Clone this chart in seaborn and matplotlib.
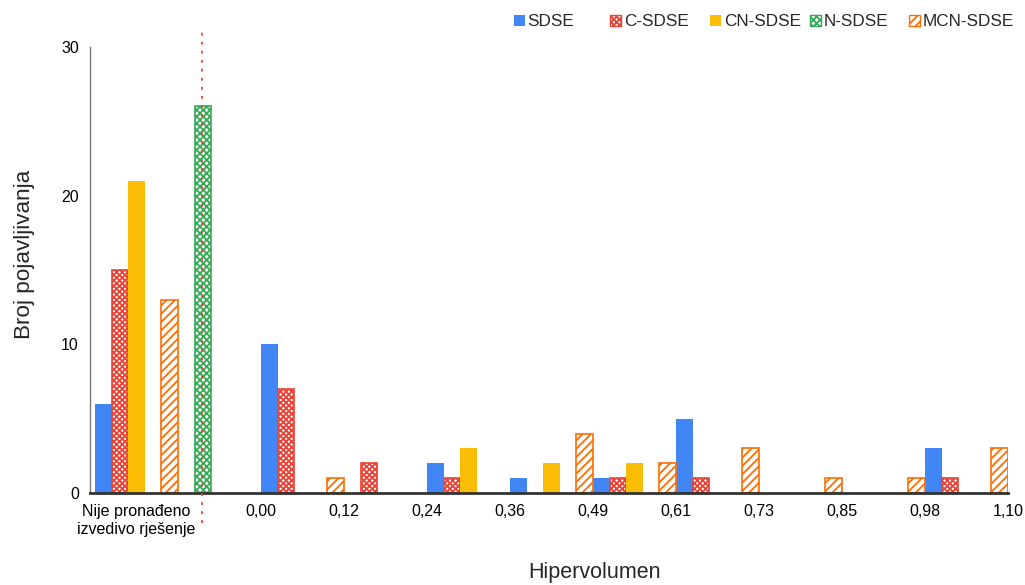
import matplotlib
matplotlib.use("Agg")
import matplotlib.pyplot as plt
import seaborn as sns
import pandas as pd
from matplotlib.patches import Patch
from matplotlib.colors import to_hex

# ---------------- data ----------------
series = ["SDSE", "C-SDSE", "CN-SDSE", "N-SDSE", "MCN-SDSE"]
colors = ["#4285F4", "#EA4335", "#FBBC04", "#34A853", "#FF6D01"]
hatches = [None, "xxxxxx", None, "xxxxx", "////"]

not_found_label = "Nije pronađeno\nizvedivo rješenje"
edge_labels = ["0,00", "0,12", "0,24", "0,36", "0,49", "0,61", "0,73", "0,85", "0,98", "1,10"]

# counts where no feasible solution was found (N-SDSE drawn separately after the separator)
not_found = [6, 15, 21, 0, 13]
not_found_nsdse = 26

# histogram counts per bin (9 bins between the edge labels)
sdse_bins = [10, 0, 2, 1, 1, 5, 0, 0, 3]
csdse_bins = [7, 2, 1, 0, 1, 1, 0, 0, 1]
cnsdse_bins = [0, 0, 3, 2, 2, 0, 0, 0, 0]
nsdse_bins = [0, 0, 0, 0, 0, 0, 0, 0, 0]
mcnsdse_bins = [1, 0, 0, 4, 2, 3, 1, 1, 3]

# ---------------- build table ----------------
groups = ["nf", "nf_N"] + [f"bin{i}" for i in range(1, 10)]
bins_all = [sdse_bins, csdse_bins, cnsdse_bins, nsdse_bins, mcnsdse_bins]
rows = []
for s, nf, b in zip(series, not_found, bins_all):
    if nf > 0:
        rows.append({"group": "nf", "series": s, "count": nf})
    for g, v in zip(groups[2:], b):
        if v > 0:
            rows.append({"group": g, "series": s, "count": v})
df = pd.DataFrame(rows)

sep_order = ["_p0", "N-SDSE", "_p2", "_p3", "_p4"]
df_n = pd.DataFrame([{"group": "nf_N", "series": k,
                      "count": not_found_nsdse if k == "N-SDSE" else 0} for k in sep_order])

# ---------------- plot ----------------
sns.set_style("white")
plt.rcParams["font.family"] = ["Liberation Sans", "DejaVu Sans"]
plt.rcParams["hatch.linewidth"] = 1.3

fig = plt.figure(figsize=(10.25, 5.85), dpi=100)
ax = fig.add_axes([90 / 1025, 92 / 585, 918 / 1025, 446 / 585])

pal = dict(zip(series, colors))
sns.barplot(data=df, x="group", y="count", hue="series", hue_order=series,
            order=groups, palette=pal, width=1.0, gap=0.0, legend=False,
            saturation=1, ax=ax, err_kws={"linewidth": 0})
pal2 = {k: colors[3] for k in sep_order}
sns.barplot(data=df_n, x="group", y="count", hue="series", hue_order=sep_order,
            order=groups, palette=pal2, width=1.0, gap=0.0, legend=False,
            saturation=1, ax=ax, err_kws={"linewidth": 0})

col_to_idx = {c.lower(): i for i, c in enumerate(colors)}
for p in list(ax.patches):
    if p.get_height() == 0:
        p.set_visible(False)
        continue
    h = to_hex(p.get_facecolor()).lower()
    if h not in col_to_idx:
        continue
    i = col_to_idx[h]
    if hatches[i]:
        p.set_facecolor("white")
        p.set_edgecolor(colors[i])
        p.set_hatch(hatches[i])
        p.set_linewidth(1.2)
    else:
        p.set_linewidth(0)

ax.set_ylim(0, 30)
ax.set_xlim(-0.56, 10.5)
ax.set_yticks([0, 10, 20, 30])
ax.set_xticks([0] + [1.5 + i for i in range(len(edge_labels))])
ax.set_xticklabels([not_found_label] + edge_labels)
ax.tick_params(axis="both", length=0, labelsize=11.5, colors="black")
ax.tick_params(axis="x", pad=8)
ax.tick_params(axis="y", pad=8)

for s in ["top", "right"]:
    ax.spines[s].set_visible(False)
ax.spines["left"].set_color("#777777")
ax.spines["left"].set_linewidth(1.0)
ax.spines["bottom"].set_color("#333333")
ax.spines["bottom"].set_linewidth(2.0)
ax.spines["bottom"].set_zorder(5)

# separator between "not found" categories and histogram
separator_x = 0.79
ax.plot([separator_x, separator_x], [-2.0, 31.0], linestyle=(0, (1.5, 3.5)),
        color="#EA4335", linewidth=1.3, clip_on=False, zorder=6)

ax.set_xlabel("Hipervolumen", fontsize=15.5)
ax.set_ylabel("Broj pojavljivanja", fontsize=16.2)
ax.xaxis.set_label_coords(0.5496, -0.155)
ax.yaxis.set_label_coords(-0.060, 0.536)

legend_x = [514, 610, 710, 810, 909]
for s, c, h, lx in zip(series, colors, hatches, legend_x):
    if h:
        hd = Patch(facecolor="white", edgecolor=c, hatch=h, linewidth=1.0, label=s)
    else:
        hd = Patch(facecolor=c, edgecolor=c, linewidth=0, label=s)
    fig.legend(handles=[hd], loc="center left", bbox_to_anchor=(lx / 1025, 1 - 22 / 585),
               frameon=False, fontsize=12.3, handlelength=0.65, handleheight=0.65,
               handletextpad=0.15, borderpad=0, borderaxespad=0)

fig.savefig("out.png", dpi=100)
